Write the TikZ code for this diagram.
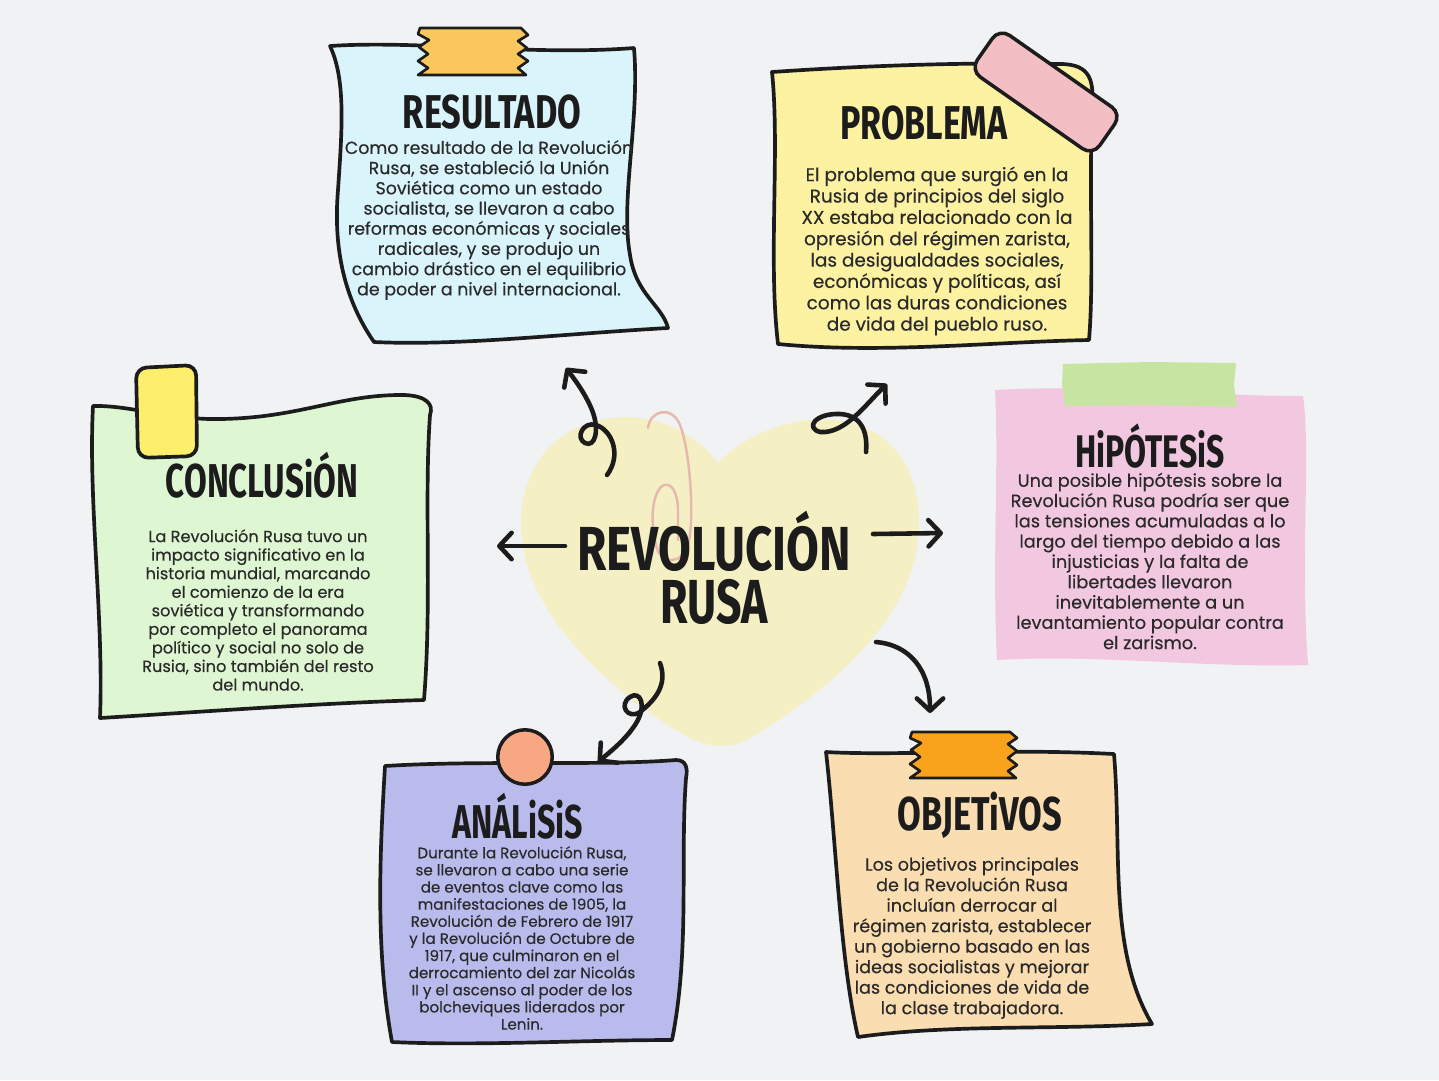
\documentclass[tikz,border=0pt]{standalone}
\usepackage{fontspec}
\usepackage{graphicx}
\setmainfont{Poppins}[FakeBold=0.35]
\newfontfamily\titlefont{Fira Sans}
\usetikzlibrary{arrows.meta}
\definecolor{bg}{HTML}{F1F2F4}
\definecolor{ink}{HTML}{1C1C1C}
\definecolor{txt}{HTML}{2A2A2A}
\definecolor{heartc}{HTML}{F5EFC4}
\definecolor{clipc}{HTML}{E6B8AE}
\definecolor{cblue}{HTML}{D9F4FB}
\definecolor{cyellow}{HTML}{FDF1A2}
\definecolor{cgreen}{HTML}{DFF6D3}
\definecolor{cpink}{HTML}{F2C7E0}
\definecolor{clav}{HTML}{B9BBEC}
\definecolor{cpeach}{HTML}{FADDB0}
\definecolor{tgold}{HTML}{F9C75C}
\definecolor{torange}{HTML}{F9A21B}
\definecolor{tyellow}{HTML}{FDEE6C}
\definecolor{tpink}{HTML}{F3BFC5}
\definecolor{tgreen}{HTML}{C7E4A3}
\definecolor{tsalmon}{HTML}{F8A783}
\newlength\pxu
\setlength\pxu{0.56693pt}
\newcommand\ttl[3]{\resizebox{#1\pxu}{\height}{\titlefont\bfseries\fontsize{#2}{#2}\selectfont #3}}
\begin{document}
\begin{tikzpicture}[x=0.02cm,y=-0.02cm,line join=round,line cap=round,
  card/.style={draw=ink,line width=2.1pt},
  tape/.style={draw=ink,line width=1.5pt},
  arr/.style={draw=ink,line width=2.6pt,-{Straight Barb[length=7pt,width=15pt,round]}},
  body/.style={align=center,text=txt,inner sep=0pt},
  ttlnode/.style={anchor=base,inner sep=0pt,text=ink}]
\useasboundingbox[fill=bg] (0,0) rectangle (1439,1080);

% heart
\fill[heartc] (718,463) .. controls (690,425) and (640,410) .. (600,420)
  .. controls (545,432) and (515,480) .. (522,540)
  .. controls (530,620) and (620,700) .. (690,738)
  .. controls (715,750) and (735,748) .. (755,735)
  .. controls (830,690) and (910,620) .. (918,540)
  .. controls (925,470) and (890,425) .. (835,420)
  .. controls (790,416) and (745,435) .. (718,463) -- cycle;
% paper clip
\draw[clipc,line width=1.4pt] (648,428) .. controls (650,410) and (672,405) .. (680,425)
  .. controls (690,450) and (695,520) .. (688,545)
  .. controls (682,565) and (660,565) .. (656,545)
  .. controls (650,520) and (652,495) .. (662,486)
  .. controls (672,480) and (678,495) .. (678,510) -- (678,540);

% cards
\filldraw[card,fill=cblue] (330,46) .. controls (420,40) and (530,56) .. (634,48)
  .. controls (640,120) and (620,200) .. (630,255)
  .. controls (636,295) and (662,305) .. (668,328)
  .. controls (560,334) and (460,346) .. (374,342)
  .. controls (345,300) and (333,250) .. (338,190)
  .. controls (342,130) and (346,80) .. (330,46) -- cycle;
\filldraw[card,fill=cyellow] (772,72) .. controls (860,66) and (960,62) .. (1060,64)
  .. controls (1092,64) and (1094,82) .. (1092,110)
  .. controls (1089,200) and (1094,280) .. (1089,340)
  .. controls (990,342) and (880,354) .. (778,344)
  .. controls (768,260) and (780,150) .. (772,72) -- cycle;
\filldraw[card,fill=cgreen] (93,406) .. controls (130,405) and (170,420) .. (220,419)
  .. controls (300,418) and (340,394) .. (405,395)
  .. controls (426,396) and (434,404) .. (430,415)
  .. controls (424,500) and (432,600) .. (424,700)
  .. controls (320,703) and (200,712) .. (100,718)
  .. controls (104,620) and (88,500) .. (93,406) -- cycle;
\fill[cpink] (995,390) .. controls (1100,384) and (1200,396) .. (1303,396)
  .. controls (1311,450) and (1300,560) .. (1308,665)
  .. controls (1200,668) and (1100,654) .. (997,660)
  .. controls (992,560) and (999,470) .. (995,390) -- cycle;
\filldraw[card,fill=clav] (385,766) .. controls (480,760) and (600,766) .. (676,760)
  .. controls (686,760) and (688,768) .. (686,778)
  .. controls (680,860) and (690,950) .. (672,1040)
  .. controls (580,1040) and (480,1046) .. (392,1042)
  .. controls (375,950) and (380,850) .. (385,766) -- cycle;
\filldraw[card,fill=cpeach] (826,752) .. controls (900,756) and (1000,748) .. (1114,754)
  .. controls (1122,850) and (1108,950) .. (1152,1024)
  .. controls (1050,1030) and (950,1024) .. (858,1037)
  .. controls (840,960) and (836,840) .. (826,752) -- cycle;

% tapes
\filldraw[tape,fill=tgold] (420,28) -- (521,28) -- (528,35) -- (518,41) -- (527,48) -- (518,54) -- (528,61) -- (518,68) -- (526,75)
  -- (418,75) -- (428,68) -- (418,61) -- (428,54) -- (419,47) -- (429,40) -- (418,34) -- cycle;
\filldraw[tape,fill=torange] (912,732) -- (1010,732) -- (1017,738) -- (1008,744) -- (1017,751) -- (1008,758) -- (1017,765) -- (1008,771) -- (1016,778)
  -- (910,778) -- (920,771) -- (910,764) -- (920,757) -- (911,750) -- (921,743) -- (910,738) -- cycle;
\filldraw[card,fill=tyellow,rounded corners=6pt] (136,368) -- (196,365) -- (197,456) -- (138,458) -- cycle;
\fill[tgreen] (1063,364) -- (1150,362) -- (1236,363) -- (1234,385) -- (1237,407) -- (1150,405) -- (1065,406) -- (1062,385) -- cycle;
\node[draw=ink,line width=2pt,fill=tpink,rounded corners=7pt,minimum width=85pt,minimum height=29pt,rotate=-35] (tapeP) at (1046,92) {};
\node[circle,draw=ink,line width=2pt,fill=tsalmon,minimum size=31pt,inner sep=0pt] (pin) at (525,757) {};

% central title
\node[ttlnode] (cen1) at (714,570) {\ttl{275}{35.4}{REVOLUCIÓN}};
\node[ttlnode] (cen2) at (714,623) {\ttl{108}{35.4}{RUSA}};

% arrows
\coordinate (a1s) at (565,546); \coordinate (a1e) at (497,546);
\draw[arr] (a1s) -- (a1e);
\coordinate (a2s) at (873,534); \coordinate (a2e) at (943,533);
\draw[arr] (a2s) -- (a2e);
\coordinate (a3s) at (607,475); \coordinate (a3e) at (566,368);
\draw[arr] (a3s) .. controls (622,455) and (612,430) .. (596,425)
  .. controls (583,421) and (575,438) .. (585,443)
  .. controls (595,448) and (600,430) .. (592,410)
  .. controls (585,393) and (575,380) .. (a3e);
\coordinate (a4s) at (866,452); \coordinate (a4e) at (887,384);
\draw[arr] (a4s) .. controls (868,430) and (860,415) .. (840,414)
  .. controls (815,413) and (805,428) .. (820,432)
  .. controls (845,434) and (865,405) .. (a4e);
\coordinate (a5s) at (660,663); \coordinate (a5e) at (598,762);
\draw[arr] (a5s) .. controls (668,685) and (655,700) .. (640,712)
  .. controls (628,720) and (618,705) .. (630,697)
  .. controls (640,690) and (648,705) .. (635,725)
  .. controls (625,740) and (610,752) .. (a5e);
\coordinate (a6s) at (876,642); \coordinate (a6e) at (930,713);
\draw[arr] (a6s) .. controls (910,645) and (930,670) .. (a6e);

% titles
\node[ttlnode] (hRes) at (492,128) {\ttl{179}{27}{RESULTADO}};
\node[ttlnode] (hPro) at (924,139) {\ttl{168}{27}{PROBLEMA}};
\node[ttlnode] (hCon) at (262,497) {\ttl{193}{27}{CONCLUSiÓN}};
\node[ttlnode] (hHip) at (1150,467) {\ttl{150}{26}{HiPÓTESiS}};
\node[ttlnode] (hAna) at (518,838) {\ttl{131}{27}{ANÁLiSiS}};
\node[ttlnode] (hObj) at (980,830) {\ttl{165}{27}{OBJETiVOS}};

% bodies
\node[body,font=\fontsize{9.9}{11.5}\selectfont] (bRes) at (489,220) {Como resultado de la Revolución\\Rusa, se estableció la Unión\\Soviética como un estado\\socialista, se llevaron a cabo\\reformas económicas y sociales\\radicales, y se produjo un\\cambio drástico en el equilibrio\\de poder a nivel internacional.};
\node[body,font=\fontsize{10.5}{12.15}\selectfont] (bPro) at (937,251) {El problema que surgió en la\\Rusia de principios del siglo\\XX estaba relacionado con la\\opresión del régimen zarista,\\las desigualdades sociales,\\económicas y políticas, así\\como las duras condiciones\\de vida del pueblo ruso.};
\node[body,font=\fontsize{9.2}{10.56}\selectfont] (bCon) at (258,610) {La Revolución Rusa tuvo un\\impacto significativo en la\\historia mundial, marcando\\el comienzo de la era\\soviética y transformando\\por completo el panorama\\político y social no solo de\\Rusia, sino también del resto\\del mundo.};
\node[body,font=\fontsize{10.1}{11.55}\selectfont] (bHip) at (1150,561) {Una posible hipótesis sobre la\\Revolución Rusa podría ser que\\las tensiones acumuladas a lo\\largo del tiempo debido a las\\injusticias y la falta de\\libertades llevaron\\inevitablemente a un\\levantamiento popular contra\\el zarismo.};
\node[body,font=\fontsize{8.6}{9.75}\selectfont] (bAna) at (522,938) {Durante la Revolución Rusa,\\se llevaron a cabo una serie\\de eventos clave como las\\manifestaciones de 1905, la\\Revolución de Febrero de 1917\\y la Revolución de Octubre de\\1917, que culminaron en el\\derrocamiento del zar Nicolás\\II y el ascenso al poder de los\\bolcheviques liderados por\\Lenin.};
\node[body,font=\fontsize{10.0}{11.67}\selectfont] (bObj) at (972,938) {Los objetivos principales\\de la Revolución Rusa\\incluían derrocar al\\régimen zarista, establecer\\un gobierno basado en las\\ideas socialistas y mejorar\\las condiciones de vida de\\la clase trabajadora.};
\end{tikzpicture}
\end{document}
